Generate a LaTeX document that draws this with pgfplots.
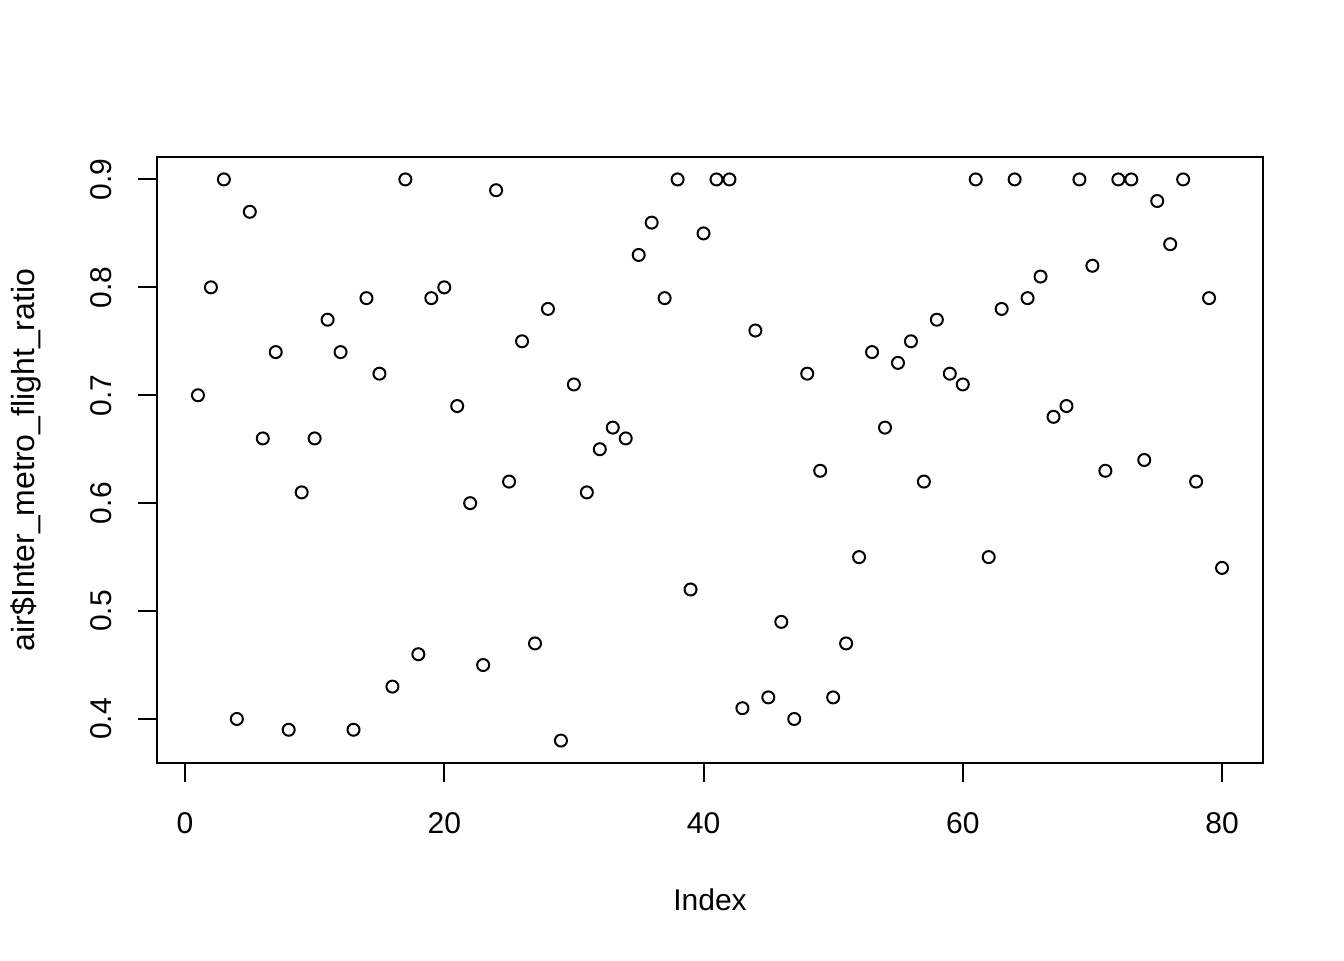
\documentclass[border=0pt]{standalone}
\usepackage{pgfplots}
\pgfplotsset{compat=1.18}
\usepackage{fontspec}
\setmainfont{Liberation Sans}
\begin{document}
\begin{tikzpicture}
\path[use as bounding box] (-78.5pt,-98.5pt) rectangle (593.5pt,381.5pt);
\begin{axis}[
  at={(0pt,0pt)}, anchor=south west,
  scale only axis, width=553pt, height=303pt,
  xmin=-2.16, xmax=83.16, ymin=0.3592, ymax=0.9208,
  xtick={0,20,40,60,80},
  xticklabels={0,20,40,60,80},
  ytick={0.4,0.5,0.6,0.7,0.8,0.9},
  yticklabels={0.4,0.5,0.6,0.7,0.8,0.9},
  tick align=outside, major tick length=9.5pt,
  xtick pos=bottom, ytick pos=left,
  axis line style={line width=1pt}, tick style={line width=1pt, black},
  font=\fontsize{15pt}{18pt}\selectfont,
  xticklabel style={anchor=base, inner sep=0pt, yshift=-25.5pt},
  yticklabel style={rotate=90, anchor=base, inner sep=0pt, yshift=13pt},
  xlabel={Index}, ylabel={air\$Inter\_metro\_flight\_ratio},
  xlabel style={at={(axis description cs:0.5,0)}, anchor=base, yshift=-73.5pt, inner sep=0pt},
  ylabel style={at={(axis description cs:0,0.5)}, anchor=base, yshift=61pt, inner sep=0pt, font=\fontsize{16pt}{19pt}\selectfont},
  clip=false,
]
\addplot[only marks, mark=o, mark size=3pt, mark options={line width=1pt, black}] coordinates {
(1,0.70)(2,0.80)(3,0.90)(4,0.40)(5,0.87)(6,0.66)(7,0.74)(8,0.39)(9,0.61)(10,0.66)
(11,0.77)(12,0.74)(13,0.39)(14,0.79)(15,0.72)(16,0.43)(17,0.90)(18,0.46)(19,0.79)(20,0.80)
(21,0.69)(22,0.60)(23,0.45)(24,0.89)(25,0.62)(26,0.75)(27,0.47)(28,0.78)(29,0.38)(30,0.71)
(31,0.61)(32,0.65)(33,0.67)(34,0.66)(35,0.83)(36,0.86)(37,0.79)(38,0.90)(39,0.52)(40,0.85)
(41,0.90)(42,0.90)(43,0.41)(44,0.76)(45,0.42)(46,0.49)(47,0.40)(48,0.72)(49,0.63)(50,0.42)
(51,0.47)(52,0.55)(53,0.74)(54,0.67)(55,0.73)(56,0.75)(57,0.62)(58,0.77)(59,0.72)(60,0.71)
(61,0.90)(62,0.55)(63,0.78)(64,0.90)(65,0.79)(66,0.81)(67,0.68)(68,0.69)(69,0.90)(70,0.82)
(71,0.63)(72,0.90)(73,0.90)(74,0.64)(75,0.88)(76,0.84)(77,0.90)(78,0.62)(79,0.79)(80,0.54)
};
\end{axis}
\end{tikzpicture}
\end{document}
